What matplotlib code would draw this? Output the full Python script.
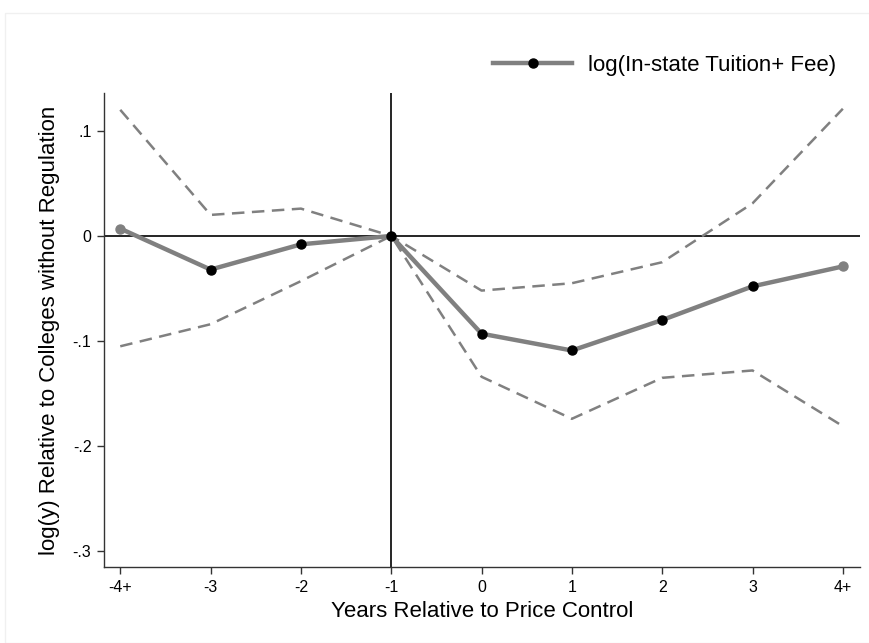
import numpy as np
import matplotlib.pyplot as plt
import matplotlib as mpl
from matplotlib.lines import Line2D

mpl.rcParams['font.family'] = ['Liberation Sans', 'DejaVu Sans']

# event-time estimates, log(in-state tuition + fee)
years = ['-4+', '-3', '-2', '-1', '0', '1', '2', '3', '4+']
coef = [0.007, -0.032, -0.008, 0.0, -0.093, -0.109, -0.080, -0.048, -0.029]
ci_hi = [0.120, 0.020, 0.026, 0.0, -0.052, -0.045, -0.025, 0.031, 0.121]
ci_lo = [-0.105, -0.084, -0.043, 0.0, -0.134, -0.174, -0.135, -0.128, -0.181]

x = np.arange(-4, 5)
gray = '#808080'

fig = plt.figure(figsize=(8.7, 6.43), dpi=100)
fig.patches.append(mpl.patches.Rectangle((5/870, 0), 1, 1 - 13/643, transform=fig.transFigure,
                                         fill=False, edgecolor='#f0f0f0', lw=1))
ax = fig.add_axes([104/870, 1 - 567/643, 756/870, 474/643])

ax.axhline(0, color='black', lw=1.2, zorder=1)
ax.axvline(-1, color='black', lw=1.2, zorder=1)

ax.plot(x, ci_hi, color=gray, lw=1.8, ls=(0, (5, 3)), zorder=2)
ax.plot(x, ci_lo, color=gray, lw=1.8, ls=(0, (5, 3)), zorder=2)
ax.plot(x, coef, color=gray, lw=3.2, zorder=3)
ax.plot(x[1:-1], coef[1:-1], 'o', color='black', ms=6.5, zorder=4)
ax.plot([x[0], x[-1]], [coef[0], coef[-1]], 'o', color=gray, ms=6.5, zorder=4)

ax.set_xlim(-4.18, 4.19)
ax.set_ylim(-0.315, 0.136)
ax.set_xticks(x)
ax.set_xticklabels(years)
ax.set_yticks([0.1, 0, -0.1, -0.2, -0.3])
ax.set_yticklabels(['.1', '0', '-.1', '-.2', '-.3'])
ax.tick_params(labelsize=11.5, length=5, width=1, color='#333333', pad=4)

for s in ['top', 'right']:
    ax.spines[s].set_visible(False)
for s in ['left', 'bottom']:
    ax.spines[s].set_color('#333333')
    ax.spines[s].set_linewidth(1)

ax.set_xlabel('Years Relative to Price Control', fontsize=16, labelpad=5)
ax.set_ylabel('log(y) Relative to Colleges without Regulation', fontsize=16, labelpad=9)

handle = Line2D([], [], color=gray, lw=3.2, marker='o', markerfacecolor='black',
                markeredgecolor='black', ms=6.5)
fig.legend([handle], ['log(In-state Tuition+ Fee)'], loc='center left',
           bbox_to_anchor=(493/870, 1 - 65/643), frameon=False, fontsize=16,
           borderpad=0, borderaxespad=0, handlelength=3.56, handletextpad=0.72)

fig.savefig('out.png', dpi=100)
